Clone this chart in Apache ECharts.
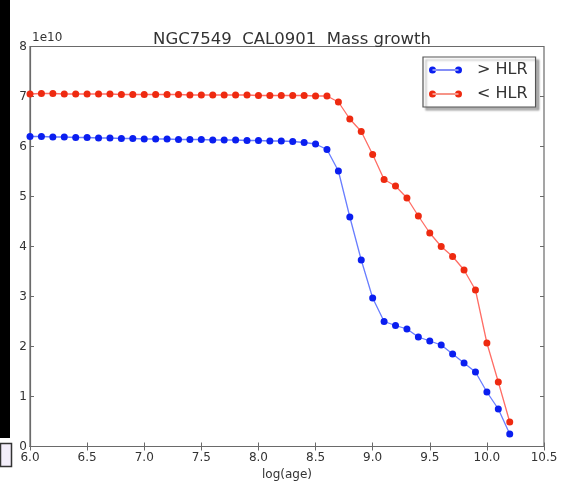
<!DOCTYPE html>
<html>
<head>
<meta charset="utf-8">
<script src="https://cdn.jsdelivr.net/npm/echarts@6/dist/echarts.min.js"></script>
<style>
html,body{margin:0;padding:0;background:#fff;}
#chart{width:562px;height:493px;}
</style>
</head>
<body>
<div id="chart"></div>
<script>
const titleText = 'NGC7549  CAL0901  Mass growth';
const xLabel = 'log(age)';
const offsetText = '1e10';
const seriesNames = ['> HLR', '< HLR'];
const logAge = [6.0,6.1,6.2,6.3,6.4,6.5,6.6,6.7,6.8,6.9,7.0,7.1,7.2,7.3,7.4,7.5,7.6,7.7,7.8,7.9,8.0,8.1,8.2,8.3,8.4,8.5,8.6,8.7,8.8,8.9,9.0,9.1,9.2,9.3,9.4,9.5,9.6,9.7,9.8,9.9,10.0,10.1,10.2];
const massOuter = [6.20e10,6.20e10,6.19e10,6.19e10,6.18e10,6.18e10,6.17e10,6.17e10,6.16e10,6.16e10,6.15e10,6.15e10,6.15e10,6.14e10,6.14e10,6.14e10,6.13e10,6.13e10,6.13e10,6.12e10,6.12e10,6.11e10,6.11e10,6.10e10,6.08e10,6.05e10,5.94e10,5.51e10,4.59e10,3.73e10,2.97e10,2.50e10,2.42e10,2.35e10,2.19e10,2.11e10,2.03e10,1.85e10,1.67e10,1.49e10,1.09e10,0.75e10,0.25e10];
const massInner = [7.05e10,7.06e10,7.06e10,7.05e10,7.05e10,7.05e10,7.05e10,7.05e10,7.04e10,7.04e10,7.04e10,7.04e10,7.04e10,7.04e10,7.03e10,7.03e10,7.03e10,7.03e10,7.03e10,7.03e10,7.02e10,7.02e10,7.02e10,7.02e10,7.02e10,7.01e10,7.01e10,6.89e10,6.55e10,6.30e10,5.84e10,5.34e10,5.21e10,4.97e10,4.61e10,4.27e10,4.00e10,3.80e10,3.53e10,3.13e10,2.07e10,1.29e10,0.49e10];
const xTicks = [6.0,6.5,7.0,7.5,8.0,8.5,9.0,9.5,10.0,10.5];
const yTicks = [0,1,2,3,4,5,6,7,8];
const SCALE = 1e10;

const font = 'DejaVu Sans';
const txt = '#333';
const frame = '#6a6a6a';
const chart = echarts.init(document.getElementById('chart'), null, {renderer:'canvas'});
const pairs = (ys) => logAge.map((x,i)=>[x, ys[i]]);
const legendIcon = 'path://M0,3.5 a3.5,3.5 0 1,0 7,0 a3.5,3.5 0 1,0 -7,0 Z M26,3.5 a3.5,3.5 0 1,0 7,0 a3.5,3.5 0 1,0 -7,0 Z M3.5,3 L29.5,3 L29.5,4 L3.5,4 Z';

const tickStyle = {show:true, inside:true, length:4, lineStyle:{color:frame, width:1}};
chart.setOption({
  animation:false,
  backgroundColor:'#fff',
  title:{text:titleText, left:287, textAlign:'center', top:26,
    textStyle:{fontFamily:font, fontSize:16.5, fontWeight:'normal', color:txt}},
  grid:{left:30, right:18, top:46.5, bottom:46.5, show:true, borderColor:frame, borderWidth:1.2, containLabel:false},
  legend:{
    orient:'vertical', left:423, top:57,
    data:seriesNames,
    icon:legendIcon, itemWidth:33, itemHeight:7, itemGap:8,
    backgroundColor:'#fff', borderColor:'#555', borderWidth:1.2,
    padding:[5,8,5,6],
    shadowColor:'rgba(0,0,0,0.3)', shadowOffsetX:3, shadowOffsetY:3, shadowBlur:2,
    textStyle:{fontFamily:font, fontSize:16, color:txt, padding:[0,0,0,10]}
  },
  xAxis:[{
    type:'value', min:xTicks[0], max:xTicks[xTicks.length-1], interval:0.5,
    name:xLabel, nameLocation:'middle', nameGap:18,
    nameTextStyle:{fontFamily:font, fontSize:12, color:txt},
    axisLine:{show:true, lineStyle:{color:frame, width:1.2}},
    axisTick:tickStyle, splitLine:{show:false},
    axisLabel:{fontFamily:font, fontSize:12, color:txt, margin:5, formatter:(v)=>v.toFixed(1)}
  },{
    type:'value', position:'top', min:xTicks[0], max:xTicks[xTicks.length-1], interval:0.5,
    axisLine:{show:false}, axisTick:tickStyle, axisLabel:{show:false}, splitLine:{show:false}
  }],
  yAxis:[{
    type:'value', min:yTicks[0]*SCALE, max:yTicks[yTicks.length-1]*SCALE, interval:SCALE,
    axisLine:{show:true, lineStyle:{color:frame, width:1.2}},
    axisTick:tickStyle, splitLine:{show:false},
    axisLabel:{fontFamily:font, fontSize:12, color:txt, margin:3, formatter:(v)=>String(Math.round(v/SCALE))}
  },{
    type:'value', position:'right', min:yTicks[0]*SCALE, max:yTicks[yTicks.length-1]*SCALE, interval:SCALE,
    axisLine:{show:false}, axisTick:tickStyle, axisLabel:{show:false}, splitLine:{show:false}
  }],
  graphic:[
    {type:'rect', shape:{x:0, y:0, width:10, height:438}, style:{fill:'#000'}, silent:true},
    {type:'rect', shape:{x:0.5, y:443.5, width:11, height:23}, style:{fill:'#f3eefa', stroke:'#333', lineWidth:1.5}, silent:true},
    {type:'text', left:32, top:32, silent:true,
      style:{text:offsetText, fontFamily:font, fontSize:12, fill:txt}}
  ],
  series:[{
    name:seriesNames[0], type:'line', data:pairs(massOuter),
    symbol:'circle', symbolSize:7,
    itemStyle:{color:'#0a1ef0'},
    lineStyle:{color:'rgba(40,70,255,0.7)', width:1.3}
  },{
    name:seriesNames[1], type:'line', data:pairs(massInner),
    symbol:'circle', symbolSize:7,
    itemStyle:{color:'#ee2a10'},
    lineStyle:{color:'rgba(255,60,50,0.75)', width:1.3}
  }]
});
</script>
</body>
</html>
